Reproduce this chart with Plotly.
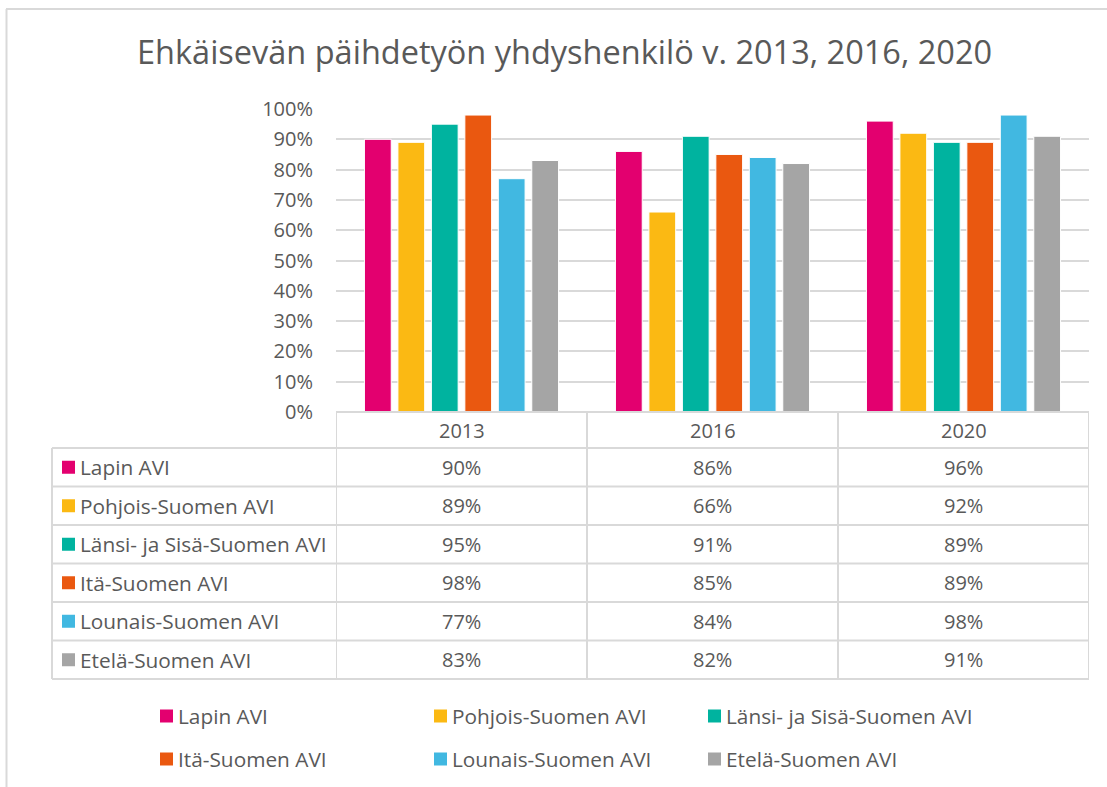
import plotly.graph_objects as go

# ---- data ----
years = ["2013", "2016", "2020"]
regions = ["Lapin AVI", "Pohjois-Suomen AVI", "Länsi- ja Sisä-Suomen AVI",
           "Itä-Suomen AVI", "Lounais-Suomen AVI", "Etelä-Suomen AVI"]
lapin = [0.90, 0.86, 0.96]
pohjois = [0.89, 0.66, 0.92]
lansi_sisa = [0.95, 0.91, 0.89]
ita = [0.98, 0.85, 0.89]
lounais = [0.77, 0.84, 0.98]
etela = [0.83, 0.82, 0.91]
series_values = [lapin, pohjois, lansi_sisa, ita, lounais, etela]
colors = ["#E3006F", "#FBB913", "#00B39F", "#EA5810", "#41B8E1", "#A5A5A5"]
y_ticks = [i / 10 for i in range(11)]
y_tick_labels = [f"{i * 10}%" for i in range(11)]
title_text = "Ehkäisevän päihdetyön yhdyshenkilö v. 2013, 2016, 2020"

# ---- geometry helpers (pixel -> paper) ----
W, H = 1107, 787
def px(x):
    return x / W
def py(y):
    return 1 - y / H

FONT = "Open Sans"
TXT = "#595959"
GRID = "#D9D9D9"
FS = 20
FS_LABEL = 20.8

fig = go.Figure()
for name, vals, col in zip(regions, series_values, colors):
    fig.add_trace(go.Bar(
        x=years, y=vals, name=name,
        marker=dict(color=col, line=dict(color="white", width=1)),
        showlegend=False,
        hovertemplate="%{x}: %{y:.0%}<extra>" + name + "</extra>",
    ))

plot_top, plot_bottom = 109, 412
plot_left, plot_right = 336, 1089

fig.update_layout(
    width=W, height=H, autosize=False,
    margin=dict(l=0, r=0, t=0, b=0, pad=0, autoexpand=False),
    paper_bgcolor="white", plot_bgcolor="white",
    barmode="group", bargap=0.2, bargroupgap=0.2,
    font=dict(family=FONT, color=TXT, size=FS),
    title=dict(text=title_text, x=0.51, xanchor="center",
               y=py(53), yanchor="middle", yref="paper", automargin=False,
               font=dict(family=FONT, size=32.5, color=TXT)),
    xaxis=dict(type="category", domain=[px(plot_left), px(plot_right)],
               showticklabels=False, showgrid=False, zeroline=False,
               showline=False, ticks="", range=[-0.5, 2.5], automargin=False),
    yaxis=dict(domain=[py(plot_bottom), py(plot_top)], range=[0, 1.0],
               tickvals=y_ticks, ticktext=y_tick_labels,
               showgrid=True, gridcolor=GRID, gridwidth=2,
               zeroline=False, showline=False, ticks="", automargin=False,
               ticklabelstandoff=22, tickfont=dict(size=FS, color=TXT)),
)

shapes = []
annotations = []
line = dict(color=GRID, width=2)

# outer chart border (top and left)
shapes.append(dict(type="line", xref="paper", yref="paper",
                   x0=px(6), x1=px(1107), y0=py(9), y1=py(9), line=line))
shapes.append(dict(type="line", xref="paper", yref="paper",
                   x0=px(6.5), x1=px(6.5), y0=py(9), y1=py(787), line=line))

# data table
row_bounds = [448, 486.5, 525, 563.5, 602, 640.5, 679]
header_top = plot_bottom
table_left = 52
shapes.append(dict(type="line", xref="x", yref="paper", x0=-0.5, x1=2.5,
                   y0=py(header_top), y1=py(header_top), line=line))
for yb in row_bounds:
    shapes.append(dict(type="line", xref="paper", yref="paper",
                       x0=px(table_left), x1=px(plot_right),
                       y0=py(yb), y1=py(yb), line=line))
shapes.append(dict(type="line", xref="paper", yref="paper",
                   x0=px(table_left), x1=px(table_left),
                   y0=py(row_bounds[0]), y1=py(row_bounds[-1]), line=line))
for xb in [-0.5, 0.5, 1.5, 2.5]:
    shapes.append(dict(type="line", xref="x", yref="paper", x0=xb, x1=xb,
                       y0=py(header_top), y1=py(row_bounds[-1]), line=line))

# header years (category index positions on the x axis)
for ci, yr in enumerate(years):
    annotations.append(dict(text=yr, x=ci, xref="x",
                            y=py((header_top + row_bounds[0]) / 2),
                            yref="paper", showarrow=False, xanchor="center",
                            yanchor="middle", font=dict(size=FS, color=TXT)))

# rows
for i, (name, vals, col) in enumerate(zip(regions, series_values, colors)):
    yc = (row_bounds[i] + row_bounds[i + 1]) / 2
    shapes.append(dict(type="rect", xref="paper", yref="paper",
                       x0=px(62), x1=px(75), y0=py(yc - 6.5), y1=py(yc + 6.5),
                       fillcolor=col, line=dict(width=0)))
    annotations.append(dict(text=name, x=px(78), xref="paper", y=py(yc), yref="paper",
                            showarrow=False, xanchor="left", yanchor="middle",
                            font=dict(size=FS_LABEL, color=TXT)))
    for ci, v in enumerate(vals):
        annotations.append(dict(text=f"{round(v * 100)}%", x=ci, xref="x", y=py(yc),
                                yref="paper", showarrow=False, xanchor="center",
                                yanchor="middle", font=dict(size=FS, color=TXT)))

# bottom legend (3 columns x 2 rows)
leg_cols = [160, 434, 708]
leg_rows = [716, 759]
for i, (name, col) in enumerate(zip(regions, colors)):
    lx = leg_cols[i % 3]
    ly = leg_rows[i // 3]
    shapes.append(dict(type="rect", xref="paper", yref="paper",
                       x0=px(lx), x1=px(lx + 13), y0=py(ly - 6.5), y1=py(ly + 6.5),
                       fillcolor=col, line=dict(width=0)))
    annotations.append(dict(text=name, x=px(lx + 16), xref="paper", y=py(ly), yref="paper",
                            showarrow=False, xanchor="left", yanchor="middle",
                            font=dict(size=FS_LABEL, color=TXT)))

fig.update_layout(shapes=shapes, annotations=annotations)
fig.write_html("out.html",
               post_script="document.body.style.margin='0';document.body.style.overflow='hidden';")
